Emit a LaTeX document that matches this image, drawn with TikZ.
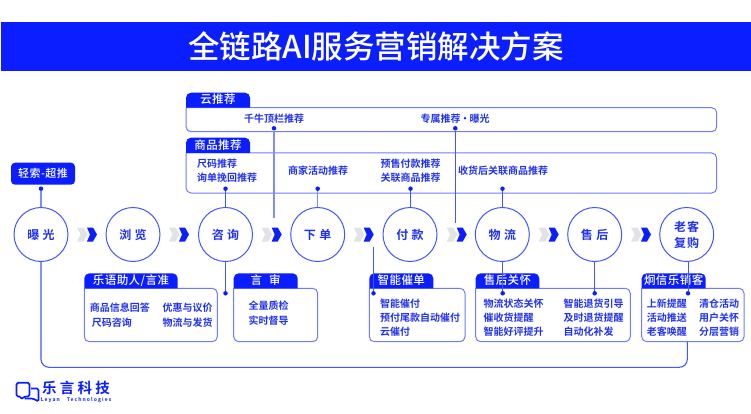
\documentclass[tikz,border=0pt]{standalone}
\usepackage{fontspec}
\setmainfont{Noto Sans CJK SC Medium}
\newfontfamily\titlefont{Noto Sans CJK SC Medium}
\newfontfamily\bodyfont{Noto Sans CJK SC}[BoldFont={Noto Sans CJK SC Bold}]
\newfontfamily\tabfont{Noto Sans CJK SC Medium}[LetterSpace=4]
\newfontfamily\logoenfont{Noto Sans CJK SC Bold}[LetterSpace=22]
\definecolor{brandblue}{HTML}{0A1EFF}
\definecolor{textblue}{HTML}{2233F0}
\definecolor{lineblue}{HTML}{4556FF}
\definecolor{palelink}{HTML}{7F8BFF}
\definecolor{chevgray}{HTML}{E2E3E6}
\definecolor{panelline}{HTML}{6F7CFF}
\pgfdeclareradialshading{ringshade}{\pgfpoint{0bp}{0bp}}{color(0bp)=(white); color(38bp)=(white); color(47bp)=(chevgray); color(49bp)=(white); color(50bp)=(white)}
\newcommand{\panel}[8]{%
  \draw[panelline,line width=1pt] (#2,#5) [rounded corners=5pt] -- (#3,#5) -- (#3,#6) -- (#2,#6) -- (#2,#5);
  \fill[brandblue] (#2,#5) [rounded corners=5pt] -- (#2,#4) -- (#7,#4) [sharp corners] -- (#7,#5) -- cycle;
  \node[tabtext] (#1) at ({(#2+#7)/2},{(#4+#5)/2-0.6}) {#8};
}
\newcommand{\chev}[1]{%
  \fill[chevgray,shift={(#1)}] (0,-7) -- (6.5,-7) -- (10.5,0) -- (6.5,7) -- (0,7) -- (3.5,0) -- cycle;
  \fill[brandblue,shift={(#1)}] (10,-7) -- (16,-7) -- (20,0) -- (16,7) -- (10,7) -- (13,0) -- cycle;
}
\tikzset{
  bodytext/.style={inner sep=0pt,text=textblue,font=\bodyfont\bfseries\fontsize{10}{12}\selectfont},
  tabtext/.style={inner sep=0pt,text=white,font=\tabfont\fontsize{11.5}{13}\selectfont},
  stage/.style={circle,draw=lineblue,line width=1pt,minimum size=54pt,inner sep=0pt,shade,shading=ringshade,text=textblue,font=\bodyfont\bfseries\fontsize{12}{16}\selectfont,align=center},
  joint/.style={circle,fill=brandblue,minimum size=4.5pt,inner sep=0pt},
  palelinks/.style={palelink,line width=1.4pt},
  darklinks/.style={lineblue,line width=1pt},
}
\begin{document}
\begin{tikzpicture}[x=1pt,y=-1pt]
\useasboundingbox (0,0) rectangle (751,414);
\fill[white] (0,0) rectangle (751,414);
\fill[brandblue] (1,22) rectangle (751,71);
\node[inner sep=0pt,text=white,font=\titlefont\fontsize{31.5}{34}\selectfont] (title) at (376,46.5) {全链路AI服务营销解决方案};

% panels
\panel{tabcloud}{186}{716.7}{92.7}{107.7}{131.7}{250}{云推荐}
\panel{tabgoods}{186}{716.7}{137.7}{153}{193}{250}{商品推荐}
\panel{tabyuyu}{84.3}{217.3}{273.3}{288.3}{341.7}{177.7}{乐语助人/言准}
\panel{tabaudit}{233.7}{317.7}{273.3}{288.3}{341.7}{297.7}{言\hspace{7pt}审}
\panel{tabpay}{369.3}{465}{273.3}{288.3}{341.7}{433.3}{智能催单}
\panel{tabcare}{475.7}{630.3}{273.3}{288.3}{341.7}{539.3}{售后关怀}
\panel{tabjx}{641.7}{744}{273.3}{288.3}{341.7}{705.7}{炯信乐销客}
\node[fill=brandblue,rounded corners=4pt,minimum width=64pt,minimum height=22pt,inner sep=0pt,text=white,font=\tabfont\fontsize{11}{13}\selectfont] (tabsearch) at (43,173.7) {轻索-超推};

% stages
\node[stage] (c1) at (41,234.5) {曝\hspace{3.5pt}光};
\node[stage] (c2) at (133,234.5) {浏\hspace{3.5pt}览};
\node[stage] (c3) at (225.5,234.5) {咨\hspace{3.5pt}询};
\node[stage] (c4) at (317.7,234.5) {下\hspace{3.5pt}单};
\node[stage] (c5) at (410,234.5) {付\hspace{3.5pt}款};
\node[stage] (c6) at (502.3,234.5) {物\hspace{3.5pt}流};
\node[stage] (c7) at (594.7,234.5) {售\hspace{3.5pt}后};
\node[stage] (c8) at (686.7,234.5) {老\hspace{1pt}客\\[0pt]复\hspace{1pt}购};

% chevrons
\chev{77,234.5}\chev{169,234.5}\chev{261.7,234.5}\chev{353.7,234.5}\chev{446.7,234.5}\chev{538.7,234.5}\chev{631,234.5}

% joints
\node[joint] (d1) at (41,188.7) {};
\node[joint] (d3) at (225.5,188.7) {};
\node[joint] (d4) at (317.7,188.7) {};
\node[joint] (d5) at (410.5,188.7) {};
\node[joint] (d6) at (502.5,188.7) {};
\node[joint] (dqn) at (274,128.3) {};
\node[joint] (dzs) at (455.3,128.3) {};
\node[joint] (e3) at (225.5,293.3) {};
\node[joint] (e5) at (373.5,293.3) {};
\node[joint] (e6) at (502.7,293.3) {};
\node[joint] (e7) at (594.7,293.3) {};
\node[joint] (e8) at (688,293.3) {};
\coordinate (qnend) at (274,217.7);
\coordinate (zsend) at (455.3,222.7);
\coordinate (payend) at (373.5,246.7);
\coordinate (loopa) at (41,367.3);
\coordinate (loopb) at (687.3,367.3);
\coordinate (loopc) at (687.3,341.7);

% connectors
\draw[palelinks] (d1) -- (d1 |- c1.north);
\draw[darklinks] (d3) -- (c3.north);
\draw[palelinks] (d4) -- (c4.north);
\draw[darklinks] (d5) -- (d5 |- c5.north);
\draw[darklinks] (d6) -- (d6 |- c6.north);
\draw[palelinks] (dqn) -- (qnend);
\draw[darklinks] (dzs) -- (zsend);
\draw[darklinks] (c3.south) -- (e3);
\draw[darklinks] (payend) -- (e5);
\draw[darklinks] (e6 |- c6.south) -- (e6);
\draw[darklinks] (c7.south) -- (e7);
\draw[darklinks] (e8 |- c8.south) -- (e8);
\draw[lineblue,line width=1.1pt,rounded corners=8pt] (c1.south) -- (loopa) -- (loopb) -- (loopc);

% upper text
\node[bodytext] (t1) at (274,118.3) {千牛顶栏推荐};
\node[bodytext] (t2) at (455,118.3) {专属推荐\hspace{-0.5pt}·\hspace{-0.5pt}曝光};
\node[bodytext,anchor=west] (t3) at (197,163.3) {尺码推荐};
\node[bodytext,anchor=west] (t4) at (197,177.7) {询单挽回推荐};
\node[bodytext] (t5) at (318,170.3) {商家活动推荐};
\node[bodytext] (t6) at (410.7,163.3) {预售付款推荐};
\node[bodytext] (t7) at (410.7,177.7) {关联商品推荐};
\node[bodytext,anchor=west] (t8) at (458,170.3) {收货后关联商品推荐};

% lower text
\node[bodytext,anchor=west] (a1) at (89.7,307.7) {商品信息回答};
\node[bodytext,anchor=west] (a2) at (91.7,322.3) {尺码咨询};
\node[bodytext,anchor=west] (a3) at (162.3,307.7) {优惠与议价};
\node[bodytext,anchor=west] (a4) at (162.3,322.3) {物流与发货};
\node[bodytext,anchor=west] (b1) at (248.3,305.7) {全量质检};
\node[bodytext,anchor=west] (b2) at (248.3,320.7) {实时督导};
\node[bodytext,anchor=west] (p1) at (380,303.3) {智能催付};
\node[bodytext,anchor=west] (p2) at (380,317.7) {预付尾款自动催付};
\node[bodytext,anchor=west] (p3) at (380,331.7) {云催付};
\node[bodytext,anchor=west] (s1) at (483.3,303.3) {物流状态关怀};
\node[bodytext,anchor=west] (s2) at (483.3,317.7) {催收货提醒};
\node[bodytext,anchor=west] (s3) at (483.3,331.7) {智能好评提升};
\node[bodytext,anchor=west] (s4) at (563.3,303.3) {智能退货引导};
\node[bodytext,anchor=west] (s5) at (563.3,317.7) {及时退货提醒};
\node[bodytext,anchor=west] (s6) at (563.3,331.7) {自动化补发};
\node[bodytext,anchor=west] (j1) at (646.7,303.3) {上新提醒};
\node[bodytext,anchor=west] (j2) at (646.7,317.7) {活动推送};
\node[bodytext,anchor=west] (j3) at (646.7,331.7) {老客唤醒};
\node[bodytext,anchor=west] (j4) at (699,303.3) {清仓活动};
\node[bodytext,anchor=west] (j5) at (699,317.7) {用户关怀};
\node[bodytext,anchor=west] (j6) at (699,331.7) {分层营销};

% logo
\draw[brandblue,line width=1.7pt,rounded corners=1.5pt,line join=round] (21,396.5) -- (16.5,396.5) -- (16.5,382.8) -- (29.5,382.8) -- (29.5,396.5) -- (24.5,396.5) -- (21,399.5) -- cycle;
\draw[brandblue,line width=1.7pt,rounded corners=1.5pt] (31,388.5) -- (38.5,388.5) -- (38.5,401.5) -- (33,398.5) -- (24.5,398.5);
\node[inner sep=0pt,text=brandblue,font=\bodyfont\bfseries\fontsize{14.5}{16}\selectfont] (logo) at (76,388) {乐\hspace{3.2pt}言\hspace{3.2pt}科\hspace{3.2pt}技};
\node[inner sep=0pt,text=brandblue,font=\logoenfont\fontsize{5}{6}\selectfont] (logoen) at (76,400.5) {Leyan\hspace{7pt}Technologies};
\end{tikzpicture}
\end{document}
